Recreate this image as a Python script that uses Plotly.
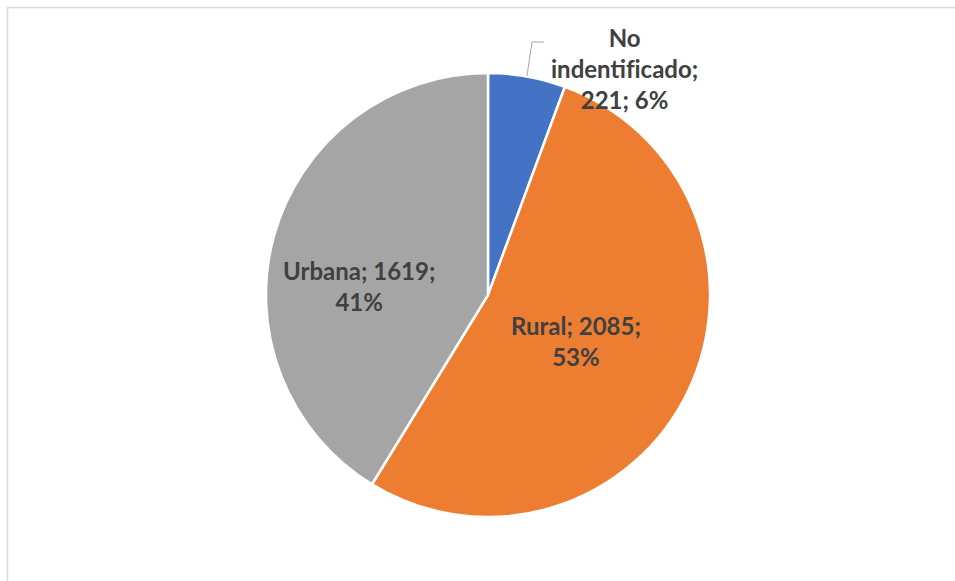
import plotly.graph_objects as go

labels = ["No indentificado", "Rural", "Urbana"]
values = [221, 2085, 1619]
colors = ["#4472C4", "#ED7D31", "#A5A5A5"]

W, H = 955, 581
total = sum(values)
pcts = [round(v / total * 100) for v in values]

fig = go.Figure(go.Pie(
    labels=labels, values=values, sort=False, direction="clockwise", rotation=0,
    marker=dict(colors=colors, line=dict(color="white", width=2.5)),
    textinfo="none", hoverinfo="label+value+percent", showlegend=False,
    domain=dict(x=[266 / W, 710 / W], y=[1 - 517 / H, 1 - 73 / H]),
))

def px(x, y):
    return x / W, 1 - y / H

first, rest = labels[0].split(" ", 1)
texts = [
    "%s<br>%s;<br>%d; %d%%" % (first, rest.replace("fi", "f\u200ci"), values[0], pcts[0]),
    "%s; %d;<br>%d%%" % (labels[1], values[1], pcts[1]),
    "%s; %d;<br>%d%%" % (labels[2], values[2], pcts[2]),
]
centers = [(624, 68), (576, 341), (359, 286)]
for t, (cx, cy) in zip(texts, centers):
    x, y = px(cx, cy)
    fig.add_annotation(x=x, y=y, xref="paper", yref="paper", text="<b>" + t + "</b>",
                       showarrow=False, align="center", xanchor="center", yanchor="middle",
                       font=dict(family="Lato, Calibri, sans-serif", size=24, color="#404040"))

# leader line
p1, p2, p3 = px(544, 42), px(532, 42), px(527, 76)
fig.add_shape(type="path", xref="paper", yref="paper",
              path="M %f,%f L %f,%f L %f,%f" % (p1[0], p1[1], p2[0], p2[1], p3[0], p3[1]),
              line=dict(color="#A6A6A6", width=1))

# chart border (top and left visible)
fig.add_shape(type="rect", xref="paper", yref="paper",
              x0=7.5 / W, y0=-0.05, x1=1.05, y1=1 - 7.5 / H,
              line=dict(color="#D9D9D9", width=1.5), layer="below")

fig.update_layout(width=W, height=H, margin=dict(l=0, r=0, t=0, b=0),
                  paper_bgcolor="white", plot_bgcolor="white")
fig.write_html("out.html", config={"displayModeBar": False},
               post_script="document.body.style.margin='0';")
